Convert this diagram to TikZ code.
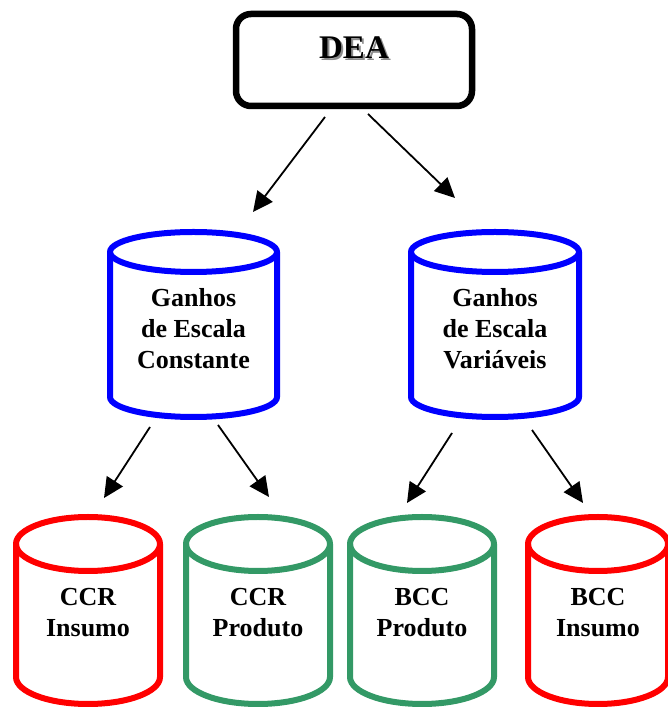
\documentclass[tikz,border=0pt]{standalone}
\usepackage{fontspec}
\setmainfont{Liberation Serif}
\usetikzlibrary{arrows.meta}

\definecolor{drumblue}{RGB}{0,0,255}
\definecolor{drumred}{RGB}{255,0,0}
\definecolor{drumgreen}{RGB}{51,153,102}

% A storage drum: #1 centre x, #2 top ellipse y, #3 bottom ellipse y,
% #4 x radius, #5 y radius, #6 colour
\newcommand\drawdrum[6]{%
  \draw[drumline,#6] (#1-#4,#2) -- (#1-#4,#3)
    arc[start angle=180,end angle=360,x radius=#4pt,y radius=#5pt] -- (#1+#4,#2);
  \draw[drumline,#6] (#1,#2) ellipse[x radius=#4pt,y radius=#5pt];
}

% bold title with a grey drop shadow behind it
\newcommand\shadowtitle[1]{%
  \rlap{\kern2pt\raisebox{-2pt}{\textcolor{black!45}{#1}}}#1}

\tikzset{
  drumline/.style={line width=6pt, line join=round},
  deabox/.style={draw, line width=6.5pt, rounded corners=15pt,
    minimum width=236pt, minimum height=92pt, inner sep=0pt},
  deatext/.style={font=\fontsize{33}{38}\selectfont\bfseries, inner sep=0pt},
  drumtext/.style={font=\fontsize{26}{31}\selectfont\bfseries, align=center, inner sep=0pt},
  conn/.style={line width=1.8pt, -{Triangle[length=20pt,width=19pt]}}
}

\begin{document}
\begin{tikzpicture}[x=1pt,y=1pt]
  \fill[white] (0,0) rectangle (667,709);
  \useasboundingbox (0,0) rectangle (667,709);

  % root
  \node[deabox] (dea) at (354,649) {};
  \node[deatext] (dealabel) at (354,660) {\shadowtitle{DEA}};

  % returns-to-scale level
  \drawdrum{193.5}{457}{312}{83.5}{20}{drumblue}
  \drawdrum{495}{457}{312}{84}{20}{drumblue}
  \node[drumtext] (crs) at (193.5,380) {Ganhos\\de Escala\\Constante};
  \node[drumtext] (vrs) at (495,380) {Ganhos\\de Escala\\Variáveis};

  % model level
  \drawdrum{88}{165}{32}{72}{27}{drumred}
  \drawdrum{258}{165}{32}{72}{27}{drumgreen}
  \drawdrum{422}{165}{32}{72}{27}{drumgreen}
  \drawdrum{598}{165}{32}{70}{27}{drumred}
  \node[drumtext] (ccri) at (88,96) {CCR\\Insumo};
  \node[drumtext] (ccrp) at (258,96) {CCR\\Produto};
  \node[drumtext] (bccp) at (422,96) {BCC\\Produto};
  \node[drumtext] (bcci) at (598,96) {BCC\\Insumo};

  % arrow ends
  \coordinate (d1) at (325,592); \coordinate (d1e) at (253,497);
  \coordinate (d2) at (368,595); \coordinate (d2e) at (455,511);
  \coordinate (c1) at (150,282); \coordinate (c1e) at (104,211);
  \coordinate (c2) at (218,284); \coordinate (c2e) at (269,212);
  \coordinate (v1) at (452,276); \coordinate (v1e) at (407,206);
  \coordinate (v2) at (532,279); \coordinate (v2e) at (583,206);

  \draw[conn] (d1) -- (d1e);
  \draw[conn] (d2) -- (d2e);
  \draw[conn] (c1) -- (c1e);
  \draw[conn] (c2) -- (c2e);
  \draw[conn] (v1) -- (v1e);
  \draw[conn] (v2) -- (v2e);
\end{tikzpicture}
\end{document}
